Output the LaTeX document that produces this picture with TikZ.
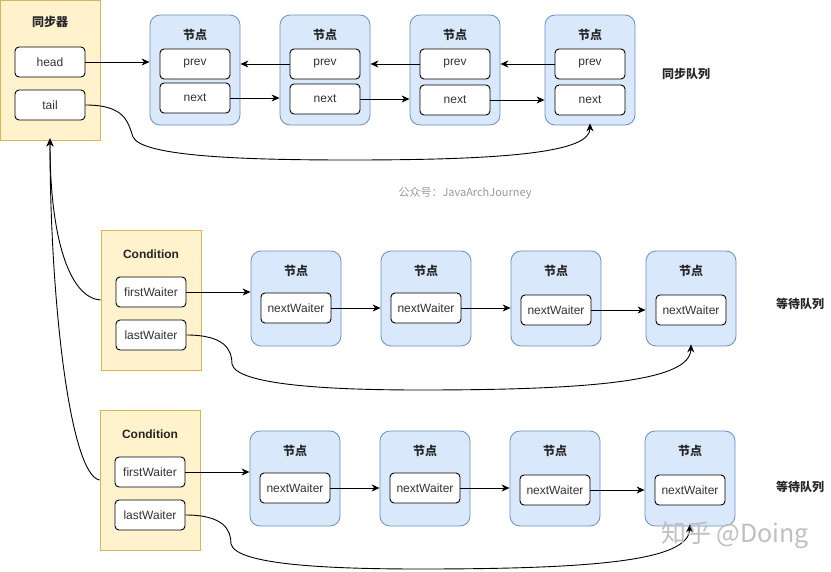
\documentclass[tikz,border=0pt]{standalone}
\usepackage{fontspec}
\setmainfont{Liberation Sans}
\newfontfamily\cjk{Noto Sans CJK SC}
\usetikzlibrary{arrows.meta}
\definecolor{syncfill}{HTML}{FFF2CC}
\definecolor{syncdraw}{HTML}{D6B656}
\definecolor{nodefill}{HTML}{DAE8FC}
\definecolor{nodedraw}{HTML}{6C8EBF}
\definecolor{txt}{HTML}{333333}
\tikzset{
  holder/.style={draw=syncdraw, fill=syncfill, line width=0.8pt, minimum width=100pt, minimum height=140pt, inner sep=0pt},
  nodebox/.style={draw=nodedraw, fill=nodefill, line width=0.8pt, rounded corners=10pt, minimum width=90pt, inner sep=0pt},
  field/.style={draw=black, fill=white, line width=0.9pt, rounded corners=4pt, minimum width=70pt, minimum height=30pt, inner sep=0pt, font=\fontsize{12}{14}\selectfont, text=txt},
  ttl/.style={font=\cjk\bfseries\fontsize{12}{14}\selectfont, text=black!85, inner sep=0pt},
  lttl/.style={font=\bfseries\fontsize{12}{14}\selectfont, text=black!85, inner sep=0pt},
  conn/.style={draw=black, line width=0.9pt, -{Stealth[length=8pt,width=7pt,inset=2.5pt]}},
  qlabel/.style={font=\cjk\bfseries\fontsize{12}{14}\selectfont, text=black!85, inner sep=0pt},
}
\begin{document}
\begin{tikzpicture}[x=1pt,y=-1pt]
\useasboundingbox (0,0) rectangle (831,571);
% ---------- synchronizer ----------
\node[holder] (sync) at (50,70) {};
\node[ttl] (syncT) at (50,22) {同步器};
\node[field] (head) at (50,62) {head};
\node[field] (tail) at (50,105) {tail};
% sync queue nodes
\foreach \i/\x/\yn in {1/195/98,2/325/99,3/455/100,4/590/100}{
  \node[nodebox, minimum height=110pt] (s\i) at (\x,70) {};
  \node[ttl] (s\i t) at (\x,35) {节点};
  \node[field] (s\i p) at (\x,64) {prev};
  \node[field] (s\i n) at (\x,\yn) {next};
}
\node[qlabel] (sq) at (686,74) {同步队列};
\draw[conn] (head.east) -- (head.east -| s1.west);
\draw[conn] (s1n.east) -- (s1n.east -| s2.west);
\draw[conn] (s2n.east) -- (s2n.east -| s3.west);
\draw[conn] (s3n.east) -- (s3n.east -| s4.west);
\draw[conn] (s2p.west) -- (s2p.west -| s1.east);
\draw[conn] (s3p.west) -- (s3p.west -| s2.east);
\draw[conn] (s4p.west) -- (s4p.west -| s3.east);
\draw[conn] (tail.east) .. controls (125,105) and (128,122) .. (133,137)
  .. controls (142,157) and (250,160) .. (350,160)
  .. controls (510,160) and (590,152) .. ([yshift=2pt]s4.south);
% watermark 1
\node[font=\cjk\fontsize{11}{13}\selectfont, text=black!40, inner sep=0pt] (wm1) at (465,193) {公众号：JavaArchJourney};
% ---------- condition 1 ----------
\node[holder] (c1) at (151,300) {};
\node[lttl] (c1t) at (151,254) {Condition};
\node[field] (c1f) at (151,292) {firstWaiter};
\node[field] (c1l) at (151,335) {lastWaiter};
\foreach \i/\x/\yn in {1/296/308,2/426/308,3/556/310,4/691/310}{
  \node[nodebox, minimum height=95pt] (a\i) at (\x,298.5) {};
  \node[ttl] (a\i t) at (\x,271) {节点};
  \node[field] (a\i n) at (\x,\yn) {nextWaiter};
}
\node[qlabel] (wq1) at (800,304) {等待队列};
\draw[conn] (c1f.east) -- (c1f.east -| a1.west);
\draw[conn] (a1n.east) -- (a1n.east -| a2.west);
\draw[conn] (a2n.east) -- (a2n.east -| a3.west);
\draw[conn] (a3n.east) -- (a3n.east -| a4.west);
\draw[conn] (c1l.east) .. controls (225,335) and (232,350) .. (232,364)
  .. controls (236,385) and (330,390) .. (420,390)
  .. controls (600,390) and (690,380) .. ([yshift=2pt]a4.south);
% ---------- condition 2 ----------
\node[holder] (c2) at (150,480) {};
\node[lttl] (c2t) at (150,434) {Condition};
\node[field] (c2f) at (150,472) {firstWaiter};
\node[field] (c2l) at (150,515) {lastWaiter};
\foreach \i/\x/\yn in {1/295/488,2/425/488,3/555/490,4/690/490}{
  \node[nodebox, minimum height=95pt] (b\i) at (\x,478.5) {};
  \node[ttl] (b\i t) at (\x,451) {节点};
  \node[field] (b\i n) at (\x,\yn) {nextWaiter};
}
\node[qlabel] (wq2) at (800,487) {等待队列};
\draw[conn] (c2f.east) -- (c2f.east -| b1.west);
\draw[conn] (b1n.east) -- (b1n.east -| b2.west);
\draw[conn] (b2n.east) -- (b2n.east -| b3.west);
\draw[conn] (b3n.east) -- (b3n.east -| b4.west);
\draw[conn] (c2l.east) .. controls (224,515) and (231,530) .. (231,544)
  .. controls (236,565) and (330,569) .. (420,569)
  .. controls (600,569) and (688,560) .. ([yshift=2pt]b4.south);
% ---------- links to synchronizer ----------
\draw[conn] (c1.west) .. controls (70,298) and (50,240) .. ([yshift=2pt]sync.south);
\draw[conn] (c2.west) .. controls (70,475) and (50,300) .. ([yshift=2pt]sync.south);
% watermark 2
\node[font=\cjk\fontsize{25}{29}\selectfont, text=black!25, inner sep=0pt] (wm2) at (735,535) {知乎 @Doing};
\end{tikzpicture}
\end{document}
